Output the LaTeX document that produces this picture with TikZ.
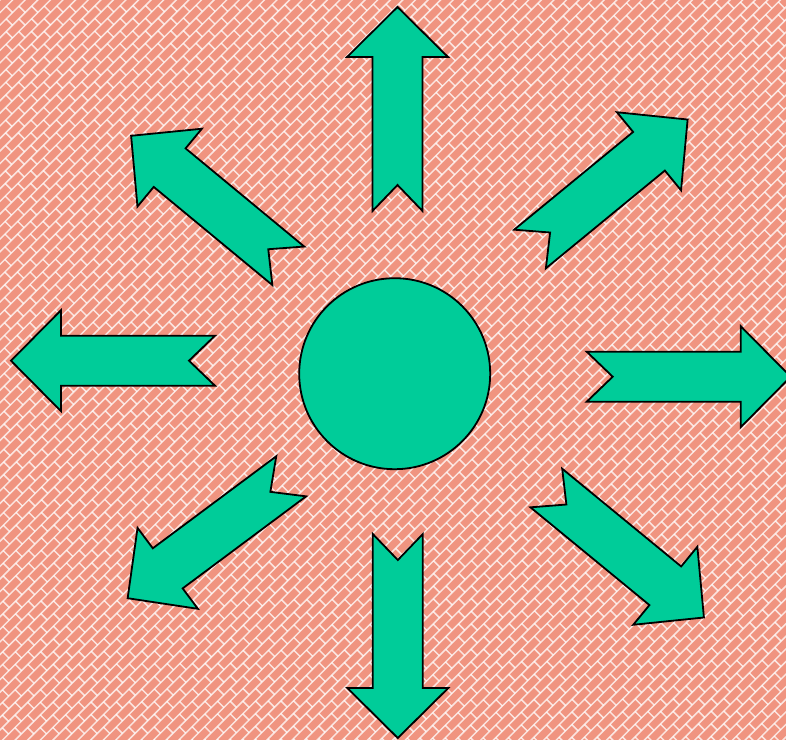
\documentclass[tikz,border=0pt]{standalone}
\definecolor{salmonbg}{RGB}{240,148,128}
\definecolor{arrowgreen}{RGB}{0,204,153}
\tikzset{
  greenshape/.style={draw=black, fill=arrowgreen, line width=1.8pt},
  brickline/.style={draw=white, line width=1.5pt, draw opacity=0.75}
}
\newcommand\greenarrow[3]{%
  \begin{scope}[shift={(#1,#2)},rotate=#3]
    \draw[greenshape] (0,25) -- (26,0) -- (0,-25) -- (154,-25) -- (154,-50.5)
      -- (204,0) -- (154,50.5) -- (154,25) -- cycle;
  \end{scope}}
\begin{document}
\begin{tikzpicture}[x=1pt,y=-1pt]
\useasboundingbox (0,0) rectangle (786,740);
\fill[salmonbg] (0,0) rectangle (786,740);
\begin{scope}
  \clip (0,0) rectangle (786,740);
  \begin{scope}[x=1pt,y=1pt,rotate=45]
    \foreach \k in {-122,...,1} {
      \pgfmathsetmacro\yy{\k*8.9}
      \pgfmathsetmacro\off{mod(\k,2)*9}
      \draw[brickline] (-530,\yy) -- (560,\yy);
      \draw[brickline] \foreach \j in {-31,...,32} { (\j*18+\off,\yy) -- ++(0,8.9) };
    }
  \end{scope}
\end{scope}
% arrows
\greenarrow{397.5}{211}{90}
\greenarrow{397.8}{534}{-90}
\greenarrow{586.7}{376.7}{0}
\greenarrow{215}{360.7}{180}
\greenarrow{530}{249}{39.4}
\greenarrow{288.3}{265.8}{140.4}
\greenarrow{291.2}{476.3}{216.7}
\greenarrow{546.3}{488}{-39.4}
% centre
\node[greenshape, circle, minimum size=191pt, inner sep=0pt] (hub) at (394.7,373.7) {};
\end{tikzpicture}
\end{document}
